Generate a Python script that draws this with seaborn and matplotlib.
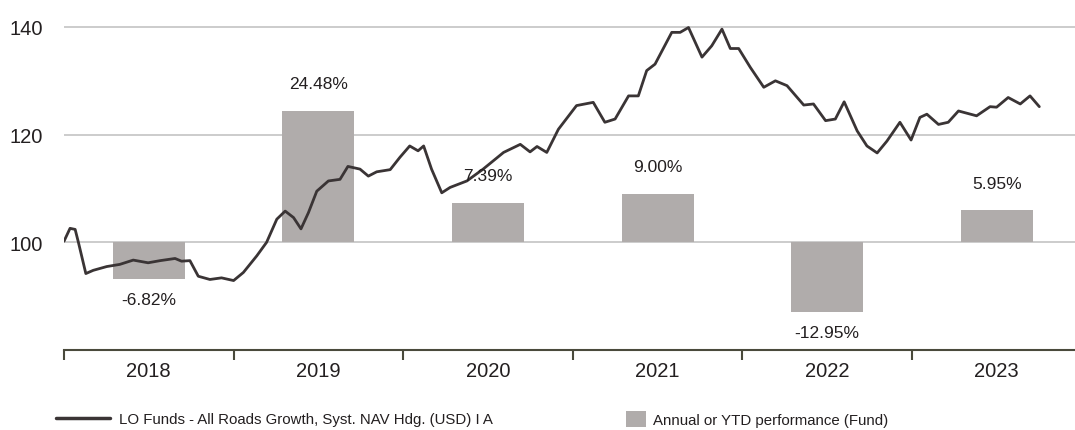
import numpy as np
import pandas as pd
import matplotlib
matplotlib.use("Agg")
import matplotlib.pyplot as plt
from matplotlib.lines import Line2D
from matplotlib.patches import Patch
import seaborn as sns

# ---------------- data ----------------
nav_dates = [
    "2018-01-01", "2018-01-14", "2018-01-25", "2018-02-01", "2018-02-17", "2018-03-05",
    "2018-04-03", "2018-05-01", "2018-05-30", "2018-07-01", "2018-07-27", "2018-08-28",
    "2018-09-11", "2018-09-29", "2018-10-17", "2018-11-11", "2018-12-06", "2019-01-01",
    "2019-01-22", "2019-02-20", "2019-03-13", "2019-04-04", "2019-04-22", "2019-05-10",
    "2019-05-26", "2019-06-11", "2019-06-29", "2019-07-24", "2019-08-18", "2019-09-04",
    "2019-09-30", "2019-10-18", "2019-11-05", "2019-12-04", "2019-12-25", "2020-01-15",
    "2020-02-02", "2020-02-14", "2020-03-02", "2020-03-24", "2020-04-11", "2020-05-17",
    "2020-06-21", "2020-08-04", "2020-09-09", "2020-09-30", "2020-10-15", "2020-11-05",
    "2020-11-30", "2021-01-09", "2021-02-14", "2021-03-11", "2021-04-02", "2021-05-01",
    "2021-05-22", "2021-06-09", "2021-06-27", "2021-08-02", "2021-08-20", "2021-09-07",
    "2021-10-06", "2021-10-27", "2021-11-18", "2021-12-06", "2021-12-24", "2022-01-18",
    "2022-02-16", "2022-03-13", "2022-04-07", "2022-05-13", "2022-06-03", "2022-06-29",
    "2022-07-20", "2022-08-08", "2022-09-05", "2022-09-26", "2022-10-18", "2022-11-08",
    "2022-12-06", "2022-12-30", "2023-01-18", "2023-02-02", "2023-02-27", "2023-03-20",
    "2023-04-11", "2023-05-20", "2023-06-18", "2023-07-02", "2023-07-27", "2023-08-22",
    "2023-09-12", "2023-10-02",
]
nav_values = [
    100.2, 102.6, 102.4, 100.0, 94.2, 94.8,
    95.5, 95.9, 96.7, 96.2, 96.6, 97.0,
    96.5, 96.6, 93.7, 93.1, 93.4, 92.9,
    94.4, 97.5, 100.0, 104.3, 105.8, 104.6,
    102.5, 105.5, 109.5, 111.4, 111.7, 114.1,
    113.6, 112.3, 113.1, 113.5, 115.8, 117.9,
    117.0, 117.9, 113.6, 109.2, 110.2, 111.4,
    113.6, 116.7, 118.2, 116.8, 117.8, 116.7,
    121.0, 125.4, 126.0, 122.3, 122.9, 127.2,
    127.2, 131.9, 133.1, 139.0, 139.0, 139.9,
    134.4, 136.5, 139.6, 136.0, 136.0, 132.5,
    128.8, 130.0, 129.1, 125.5, 125.7, 122.6,
    122.9, 126.1, 120.7, 117.9, 116.6, 118.8,
    122.3, 119.0, 123.2, 123.8, 121.9, 122.3,
    124.4, 123.5, 125.2, 125.1, 126.9, 125.7,
    127.2, 125.2,
]

years = [2018, 2019, 2020, 2021, 2022, 2023]
year_labels = ["2018", "2019", "2020", "2021", "2022", "2023"]
perf = [-6.82, 24.48, 7.39, 9.00, -12.95, 5.95]
perf_labels = ["-6.82%", "24.48%", "7.39%", "9.00%", "-12.95%", "5.95%"]

y_ticks = [100, 120, 140]
line_label = "LO Funds - All Roads Growth, Syst. NAV Hdg. (USD) I A"
bar_label = "Annual or YTD performance (Fund)"

# ---------------- style ----------------
sns.set_theme(style="white")
plt.rcParams["font.family"] = ["Liberation Sans Narrow", "Liberation Sans", "DejaVu Sans"]

LINE_C = "#3a3435"
BAR_C = "#b0acab"
TXT_C = "#231f20"
GRID_C = "#c8c8c8"
AXIS_C = "#4a4a3c"

fig = plt.figure(figsize=(10.75, 4.31), dpi=100)
ax = fig.add_axes([64 / 1075, 1 - 351 / 431, 1 - 64 / 1075, 328.4 / 431])

dt = pd.to_datetime(pd.Series(nav_dates))
dec_years = (dt.dt.year + (dt.dt.dayofyear - 1) / 365.0).to_numpy()
df_line = pd.DataFrame({"t": dec_years, "nav": nav_values})

bar_centers = [y + 0.5 for y in years]
df_bar = pd.DataFrame({"t": bar_centers, "perf": perf})

ax.set_axisbelow(True)
for v in y_ticks:
    ax.axhline(v, color=GRID_C, lw=1.3, zorder=0)

sns.barplot(data=df_bar, x="t", y="perf", native_scale=True, width=0.425,
            color=BAR_C, saturation=1, errorbar=None, bottom=100, ax=ax,
            zorder=1, linewidth=0)
sns.lineplot(data=df_line, x="t", y="nav", color=LINE_C, linewidth=2.0,
             ax=ax, zorder=3)

for xc, p, lab in zip(bar_centers, perf, perf_labels):
    if p >= 0:
        ax.annotate(lab, (xc, 100 + p), xytext=(0, 19.5), textcoords="offset points",
                    ha="center", va="center", fontsize=12.5, color=TXT_C)
    else:
        ax.annotate(lab, (xc, 100 + p), xytext=(0, -14.5), textcoords="offset points",
                    ha="center", va="center", fontsize=12.5, color=TXT_C)

ax.set_xlim(2018.0, 2018 + (1075 - 64) / 169.6)
ax.set_ylim(80, 141)

ax.set_yticks(y_ticks)
ax.set_yticklabels([str(v) for v in y_ticks], fontsize=14.5, color=TXT_C)
ax.tick_params(axis="y", length=0, pad=15)

ax.set_xticks(years)
ax.set_xticklabels([""] * len(years))
ax.set_xticks(bar_centers, minor=True)
ax.set_xticklabels(year_labels, minor=True, fontsize=14.5, color=TXT_C)
ax.tick_params(axis="x", which="major", bottom=True, length=7.5, width=1.5,
               color=AXIS_C, direction="out")
ax.tick_params(axis="x", which="minor", bottom=True, length=0, pad=8)

for s in ["top", "right", "left"]:
    ax.spines[s].set_visible(False)
ax.spines["bottom"].set_color(AXIS_C)
ax.spines["bottom"].set_linewidth(1.5)
ax.set_xlabel("")
ax.set_ylabel("")
ax.grid(False)

h1 = Line2D([0], [0], color=LINE_C, lw=2.5)
h2 = Patch(facecolor=BAR_C, edgecolor="none")
fig.legend(handles=[h1], labels=[line_label], loc="center left",
           bbox_to_anchor=(56 / 1075, 1 - 420 / 431), frameon=False,
           fontsize=10.8, handlelength=3.6, handletextpad=0.6,
           borderpad=0, borderaxespad=0, labelcolor=TXT_C)
fig.legend(handles=[h2], labels=[bar_label], loc="center left",
           bbox_to_anchor=(626 / 1075, 1 - 420 / 431), frameon=False,
           fontsize=10.8, handlelength=1.35, handleheight=1.35, handletextpad=0.48,
           borderpad=0, borderaxespad=0, labelcolor=TXT_C)

fig.savefig("out.png", dpi=100)
